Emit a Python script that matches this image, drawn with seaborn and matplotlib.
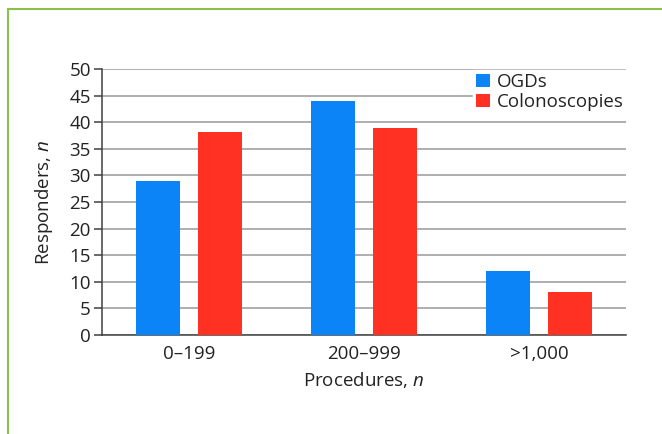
import pandas as pd
import seaborn as sns
import matplotlib.pyplot as plt
from matplotlib.lines import Line2D

# Данные
categories = ['0–199', '200–999', '>1,000']
ogds = [29, 44, 12]
colonoscopies = [38.2, 39, 8.1]
series = ['OGDs', 'Colonoscopies']
colors = ['#0a84f7', '#ff3122']

df = pd.DataFrame({
    'cat': categories * 2,
    'value': ogds + colonoscopies,
    'series': [series[0]] * 3 + [series[1]] * 3,
})

sns.set_style('white')
plt.rcParams['font.family'] = ['Open Sans', 'DejaVu Sans']
plt.rcParams['mathtext.fontset'] = 'custom'
plt.rcParams['mathtext.it'] = 'Open Sans:italic'
plt.rcParams['mathtext.rm'] = 'Open Sans'

fs = 13.5
fig = plt.figure(figsize=(6.62, 4.34), dpi=100)
ax = fig.add_axes([0.154, 0.228, 0.792, 0.613])

sns.barplot(data=df, x='cat', y='value', hue='series', palette=colors,
            width=0.71, gap=0.29, saturation=1, linewidth=0, ax=ax, zorder=3)

# Оси
ax.set_ylim(0, 50)
ax.set_xlim(-0.5, 2.5)
ax.set_yticks(range(0, 51, 5))
ax.yaxis.grid(True, color='#a8a8a8', linewidth=1.3, zorder=0)
ax.set_axisbelow(True)
for s in ['top', 'right']:
    ax.spines[s].set_visible(False)
for s in ['left', 'bottom']:
    ax.spines[s].set_color('#404040')
    ax.spines[s].set_linewidth(1.1)

ax.set_xticks([-0.5, 0.5, 1.5, 2.5])
ax.set_xticklabels([])
ax.set_xticks([0, 1, 2], minor=True)
ax.set_xticklabels(categories, minor=True)
ax.tick_params(axis='x', which='major', length=10, color='#404040', width=1.1)
ax.tick_params(axis='x', which='minor', length=0, pad=7, labelsize=fs, labelcolor='#222222')
ax.tick_params(axis='y', length=6, color='#404040', width=1.1, pad=2,
               labelsize=fs, labelcolor='#222222', left=True)

ax.set_xlabel('Procedures, $\\it{n}$', fontsize=fs, color='#222222', labelpad=5)
ax.set_ylabel('Responders, $\\it{n}$', fontsize=fs, color='#222222', labelpad=10)

leg = ax.legend(loc='upper right', bbox_to_anchor=(1.0, 0.995), borderaxespad=0,
                frameon=True, fancybox=False, framealpha=1, edgecolor='white',
                fontsize=fs, handlelength=0.75, handleheight=0.75,
                handletextpad=0.35, labelspacing=0.1, borderpad=0.15)
for t in leg.get_texts():
    t.set_color('#222222')

# Рамка
fig.add_artist(Line2D([8 / 662, 1], [1 - 9 / 434, 1 - 9 / 434], color='#8cc04a', linewidth=1.5))
fig.add_artist(Line2D([8 / 662, 8 / 662], [0, 1 - 9 / 434], color='#8cc04a', linewidth=1.5))

fig.savefig('out.png', dpi=100)
